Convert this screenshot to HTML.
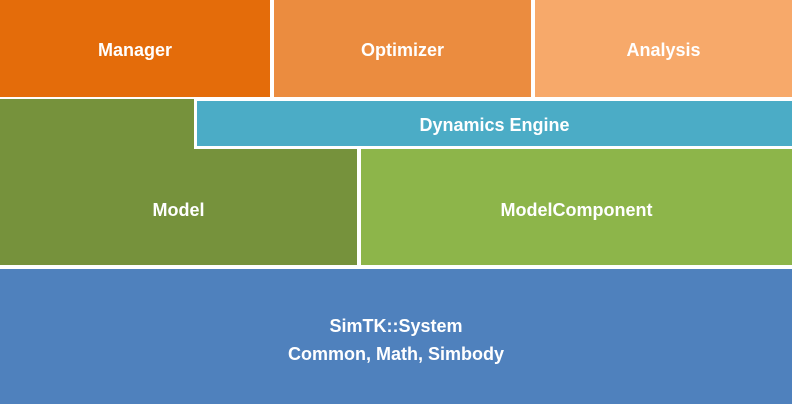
<!DOCTYPE html>
<html><head><style>
body{margin:0;width:792px;height:404px;position:relative;background:#fff;overflow:hidden;font-family:"Liberation Sans",sans-serif}
.b{position:absolute;display:flex;align-items:center;justify-content:center;color:#fff;font-weight:bold;font-size:18px;text-align:center;line-height:28px}
</style></head><body>
<div class="b" style="left:0;top:0;width:270px;height:97px;background:#E46C0A;padding-top:2px;box-sizing:border-box">Manager</div>
<div class="b" style="left:274px;top:0;width:257px;height:97px;background:#EB8C3F;padding-top:2px;box-sizing:border-box">Optimizer</div>
<div class="b" style="left:535px;top:0;width:257px;height:97px;background:#F7A96A;padding-top:2px;box-sizing:border-box">Analysis</div>
<div class="b" style="left:0;top:99px;width:357px;height:166px;background:#76923C;padding-top:56px;box-sizing:border-box">Model</div>
<div style="position:absolute;left:194px;top:99px;width:598px;height:50px;background:#fff"></div>
<div class="b" style="left:197px;top:101px;width:595px;height:45px;background:#4BACC6;padding-top:3px;box-sizing:border-box">Dynamics Engine</div>
<div class="b" style="left:361px;top:149px;width:431px;height:116px;background:#8DB54A;padding-top:6px;box-sizing:border-box">ModelComponent</div>
<div class="b" style="left:0;top:269px;width:792px;height:135px;background:#4F81BD;padding-top:7px;box-sizing:border-box">SimTK::System<br>Common, Math, Simbody</div>
</body></html>
